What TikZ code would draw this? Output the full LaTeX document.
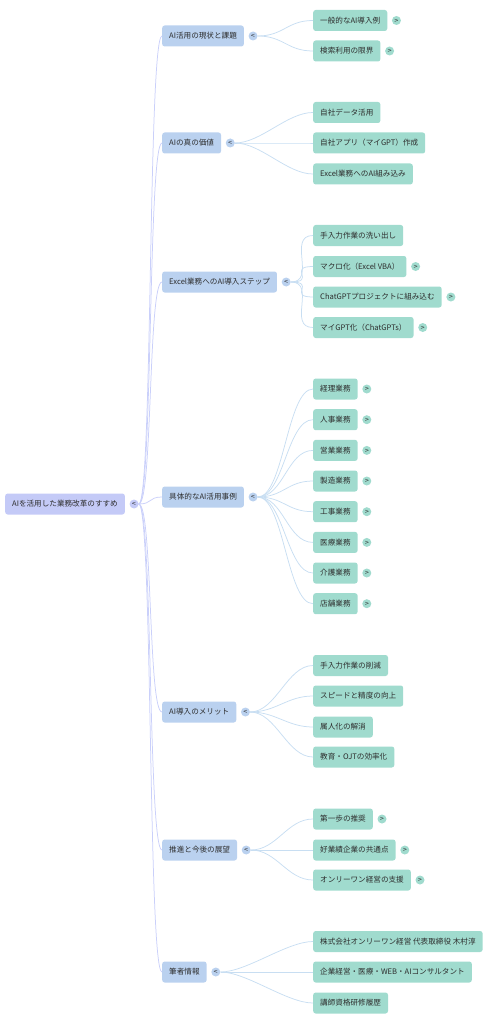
\documentclass[tikz,border=0pt]{standalone}
\usepackage{fontspec}
\newfontfamily\cjk{Noto Sans CJK JP}
\newfontfamily\togfont{DejaVu Sans}
\definecolor{rootc}{RGB}{196,202,247}
\definecolor{l1c}{RGB}{186,209,239}
\definecolor{l2c}{RGB}{160,219,206}
\definecolor{txt}{RGB}{45,45,45}
\definecolor{rootline}{RGB}{202,208,250}
\definecolor{l1line}{RGB}{200,222,242}
\tikzset{
  base/.style={rounded corners=2.5pt, inner xsep=7pt, inner ysep=0pt, minimum height=21pt, text=txt, font=\cjk\fontsize{7.6}{9}\selectfont, anchor=west},
  rootbox/.style={base, fill=rootc},
  lonebox/.style={base, fill=l1c},
  ltwobox/.style={base, fill=l2c},
  togl/.style={circle, inner sep=0pt, minimum size=9pt, text=txt, font=\togfont\fontsize{5.5}{6}\selectfont, xshift=9pt},
  rtog/.style={togl, fill=rootc},
  onetog/.style={togl, fill=l1c},
  twotog/.style={togl, fill=l2c},
  rootedge/.style={draw=rootline, line width=0.75pt},
  oneedge/.style={draw=l1line, line width=0.75pt},
}
\begin{document}
\begin{tikzpicture}[x=1pt,y=-1pt]
\useasboundingbox (0,0) rectangle (502,1024);
% root
\node[rootbox] (root) at (5,504) {AIを活用した業務改革のすすめ};
\node[rtog] (rootc) at (root.east) {<};
% level 1
\node[lonebox] (a) at (162,36) {AI活用の現状と課題};
\node[lonebox] (b) at (162,143) {AIの真の価値};
\node[lonebox] (c) at (162,282) {Excel業務へのAI導入ステップ};
\node[lonebox] (d) at (162,497) {具体的なAI活用事例};
\node[lonebox] (e) at (162,712) {AI導入のメリット};
\node[lonebox] (f) at (162,850) {推進と今後の展望};
\node[lonebox] (g) at (162,972) {筆者情報};
\foreach \n in {a,b,c,d,e,f,g}{
  \node[onetog] (\n t) at (\n.east) {<};
  \draw[rootedge] (rootc.east) .. controls +(14,0) and +(-14,0) .. (\n.west);
}
% level 2
\node[ltwobox] (a1) at (313,20.5) {一般的なAI導入例};
\node[ltwobox] (a2) at (313,51) {検索利用の限界};
\node[ltwobox] (b1) at (313,112.5) {自社データ活用};
\node[ltwobox] (b2) at (313,143) {自社アプリ（マイGPT）作成};
\node[ltwobox] (b3) at (313,174) {Excel業務へのAI組み込み};
\node[ltwobox] (c1) at (313,235.5) {手入力作業の洗い出し};
\node[ltwobox] (c2) at (313,266.5) {マクロ化（Excel VBA）};
\node[ltwobox] (c3) at (313,297) {ChatGPTプロジェクトに組み込む};
\node[ltwobox] (c4) at (313,327.5) {マイGPT化（ChatGPTs）};
\node[ltwobox] (d1) at (313,389) {経理業務};
\node[ltwobox] (d2) at (313,419.7) {人事業務};
\node[ltwobox] (d3) at (313,450.4) {営業業務};
\node[ltwobox] (d4) at (313,481) {製造業務};
\node[ltwobox] (d5) at (313,511.7) {工事業務};
\node[ltwobox] (d6) at (313,542.4) {医療業務};
\node[ltwobox] (d7) at (313,573) {介護業務};
\node[ltwobox] (d8) at (313,603.7) {店舗業務};
\node[ltwobox] (e1) at (313,665.5) {手入力作業の削減};
\node[ltwobox] (e2) at (313,696) {スピードと精度の向上};
\node[ltwobox] (e3) at (313,727) {属人化の解消};
\node[ltwobox] (e4) at (313,757) {教育・OJTの効率化};
\node[ltwobox] (f1) at (313,819) {第一歩の推奨};
\node[ltwobox] (f2) at (313,850) {好業績企業の共通点};
\node[ltwobox] (f3) at (313,880) {オンリーワン経営の支援};
\node[ltwobox] (g1) at (313,941.5) {株式会社オンリーワン経営 代表取締役 木村淳};
\node[ltwobox] (g2) at (313,972) {企業経営・医療・WEB・AIコンサルタント};
\node[ltwobox] (g3) at (313,1003) {講師資格研修履歴};
% collapsed toggles
\foreach \n in {a1,a2,c2,c3,c4,d1,d2,d3,d4,d5,d6,d7,d8,f1,f2,f3}{
  \node[twotog] (\n t) at (\n.east) {>};
}
% level 1 -> level 2 edges
\foreach \p/\kids in {a/{a1,a2},b/{b1,b2,b3},c/{c1,c2,c3,c4},d/{d1,d2,d3,d4,d5,d6,d7,d8},e/{e1,e2,e3,e4},f/{f1,f2,f3},g/{g1,g2,g3}}{
  \foreach \k in \kids {
    \draw[oneedge] (\p t.east) .. controls +(26,0) and +(-26,0) .. (\k.west);
  }
}
\end{tikzpicture}
\end{document}
